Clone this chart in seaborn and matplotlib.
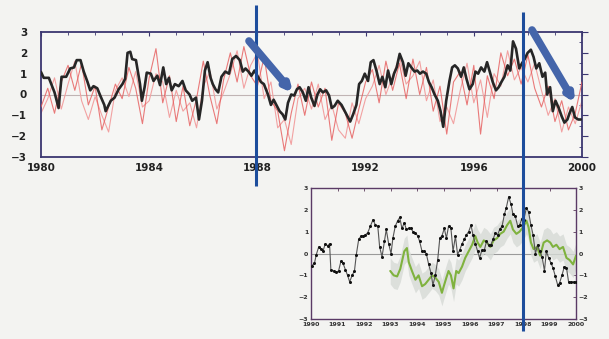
import numpy as np
import pandas as pd
import seaborn as sns
import matplotlib.pyplot as plt
from matplotlib.ticker import MultipleLocator

# Главная панель: чёрная кривая (1980-2000)
main_years = [1980.00, 1980.10, 1980.29, 1980.50, 1980.65, 1980.76, 1980.93, 1981.08, 1981.22, 1981.32,
              1981.46, 1981.58, 1981.72, 1981.82, 1981.94, 1982.08, 1982.19, 1982.34, 1982.39, 1982.58,
              1982.72, 1982.87, 1983.01, 1983.11, 1983.20, 1983.30, 1983.37, 1983.51, 1983.66, 1983.73,
              1983.83, 1983.91, 1984.06, 1984.16, 1984.30, 1984.40, 1984.52, 1984.63, 1984.73, 1984.83,
              1984.95, 1985.09, 1985.23, 1985.35, 1985.49, 1985.59, 1985.73, 1985.84, 1985.95, 1986.06,
              1986.16, 1986.27, 1986.35, 1986.45, 1986.55, 1986.67, 1986.81, 1986.95, 1987.07, 1987.21,
              1987.35, 1987.46, 1987.56, 1987.67, 1987.78, 1987.89, 1988.00, 1988.13, 1988.24, 1988.39,
              1988.50, 1988.60, 1988.70, 1988.82, 1988.93, 1989.03, 1989.13, 1989.25, 1989.36, 1989.46,
              1989.56, 1989.68, 1989.79, 1989.89, 1989.99, 1990.11, 1990.22, 1990.32, 1990.42, 1990.54,
              1990.65, 1990.75, 1990.85, 1990.97, 1991.11, 1991.23, 1991.33, 1991.43, 1991.54, 1991.66,
              1991.76, 1991.86, 1991.97, 1992.09, 1992.19, 1992.29, 1992.40, 1992.52, 1992.62, 1992.73,
              1992.83, 1992.95, 1993.05, 1993.15, 1993.26, 1993.38, 1993.48, 1993.58, 1993.69, 1993.81,
              1993.91, 1994.01, 1994.12, 1994.24, 1994.34, 1994.44, 1994.55, 1994.67, 1994.77, 1994.87,
              1994.98, 1995.10, 1995.20, 1995.30, 1995.41, 1995.53, 1995.63, 1995.73, 1995.84, 1995.96,
              1996.06, 1996.16, 1996.27, 1996.39, 1996.49, 1996.59, 1996.70, 1996.82, 1996.92, 1997.02,
              1997.13, 1997.25, 1997.35, 1997.45, 1997.56, 1997.68, 1997.78, 1997.88, 1997.99, 1998.11,
              1998.21, 1998.31, 1998.42, 1998.54, 1998.64, 1998.71, 1998.82, 1998.92, 1999.02, 1999.14,
              1999.25, 1999.35, 1999.46, 1999.54, 1999.64, 1999.74, 1999.86, 1999.96]
main_black = [1.08, 0.8, 0.8, 0.1, -0.65, 0.85, 0.85, 1.25, 1.3, 1.65,
              1.65, 1.1, 0.6, 0.2, 0.4, 0.3, -0.05, -0.5, -0.8, -0.3,
              -0.15, 0.25, 0.5, 0.75, 2.0, 2.05, 1.7, 1.65, 0.5, -0.3,
              0.35, 1.05, 1.0, 0.65, 0.9, 0.45, 1.3, 0.5, 0.8, 0.2,
              0.5, 0.4, 0.65, 0.2, 0.0, -0.3, -0.15, -1.2, -0.3, 1.15,
              1.55, 0.8, 0.5, 0.25, 0.1, 0.85, 1.1, 1.0, 1.7, 1.85,
              1.65, 1.1, 1.25, 1.1, 0.9, 1.15, 0.9, 0.6, 0.5, 0.0,
              -0.5, -0.25, -0.5, -0.8, -0.95, -1.2, -0.4, 0.0, -0.05, 0.25,
              0.35, 0.1, -0.3, 0.35, -0.15, -0.55, 0.0, 0.25, 0.1, 0.2,
              -0.05, -0.65, -0.55, -0.3, -0.5, -0.8, -1.05, -1.3, -0.95, -0.5,
              0.5, 0.65, 1.0, 0.65, 1.55, 1.65, 1.15, 0.5, 0.85, 0.35,
              1.15, 0.5, 1.0, 1.3, 1.95, 1.55, 0.9, 1.5, 1.3, 1.1,
              1.15, 1.0, 1.1, 1.0, 0.6, 0.35, 0.0, -0.3, -0.8, -1.55,
              -0.3, 0.65, 1.3, 1.4, 1.25, 0.85, 1.3, 0.75, 0.25, 0.5,
              1.1, 1.0, 1.3, 1.1, 1.55, 1.1, 0.6, 0.2, 0.35, 0.6,
              0.85, 1.4, 1.15, 2.55, 2.2, 1.25, 1.5, 1.7, 2.0, 2.15,
              1.8, 1.25, 1.5, 0.85, 1.05, 0.0, 0.35, -0.8, -0.3, -0.65,
              -1.05, -1.35, -1.2, -0.9, -0.6, -1.1, -1.2, -1.2]

# Две красные кривые, шаг 3 месяца
red_years = np.arange(1980, 2000.01, 0.25)
red_a = [-0.6, 0.3, -0.9, 0.6, 1.4, 0.2, 1.5, -0.5, 0.4, -1.7,
         -0.6, 0.5, -0.2, 1.3, 0.3, -1.4, 0.8, 2.2, -0.4, 0.9,
         -1.3, 0.4, -1.5, -0.2, 1.6, -0.1, -1.4, 0.7, 2.0, 0.6,
         2.3, 0.9, 0.4, 1.8, -0.3, -0.8, -2.7, -0.9, 0.5, -1.0,
         0.6, -0.6, 0.3, -2.2, -0.4, -0.9, -2.1, -0.7, 0.6, 1.2,
         -0.4, 1.6, 0.2, 1.5, -0.2, 1.7, 0.0, 1.3, -0.8, 0.4,
         -1.9, 0.6, 1.1, -0.5, 1.4, -1.9, 0.9, -0.2, 2.0, 0.9,
         1.7, 0.5, 1.9, 0.3, -0.6, 0.4, -1.3, -0.3, -1.7, -0.9, 0.6]
red_b = [-0.9, -0.2, 0.8, -0.7, 0.5, 1.6, -0.3, -1.2, -0.1, -1.0,
         -1.8, 0.2, 0.8, -0.1, 1.1, -0.6, -0.3, 1.0, 0.6, -1.1,
         0.2, -0.8, -0.4, -1.6, 0.4, 1.1, -0.7, 0.1, 1.0, 2.1,
         0.3, 1.4, 2.0, -0.2, 0.6, -1.6, -1.2, -2.4, -0.2, 0.3,
         -0.7, 0.5, -1.2, -0.5, -1.7, -2.1, -0.4, -1.4, -0.2, 0.4,
         1.4, 0.0, 0.9, 1.8, 0.5, 0.9, 1.6, -0.3, 0.7, -1.3,
         -0.6, -1.4, 0.2, 1.5, -0.4, 0.7, -1.1, 1.0, 0.4, 2.1,
         0.7, 1.3, 0.6, 1.5, 0.2, -1.0, -0.2, -1.8, -0.6, -1.4, -0.3]

# Врезка: чёрная кривая с точками (1990-2000)
ins_years = [1990.04, 1990.13, 1990.20, 1990.29, 1990.38, 1990.45, 1990.54, 1990.63, 1990.70, 1990.75,
             1990.86, 1990.96, 1991.04, 1991.13, 1991.21, 1991.30, 1991.38, 1991.46, 1991.55, 1991.64,
             1991.71, 1991.80, 1991.89, 1991.96, 1992.05, 1992.14, 1992.24, 1992.34, 1992.43, 1992.52,
             1992.59, 1992.68, 1992.77, 1992.84, 1992.93, 1993.02, 1993.09, 1993.18, 1993.27, 1993.35,
             1993.43, 1993.52, 1993.60, 1993.69, 1993.77, 1993.85, 1993.94, 1994.03, 1994.10, 1994.19,
             1994.28, 1994.35, 1994.44, 1994.53, 1994.60, 1994.69, 1994.78, 1994.86, 1994.94, 1995.03,
             1995.11, 1995.19, 1995.28, 1995.36, 1995.45, 1995.53, 1995.61, 1995.70, 1995.79, 1995.86,
             1995.95, 1996.04, 1996.11, 1996.20, 1996.29, 1996.36, 1996.45, 1996.54, 1996.62, 1996.70,
             1996.79, 1996.87, 1996.96, 1997.04, 1997.12, 1997.21, 1997.30, 1997.37, 1997.46, 1997.55,
             1997.62, 1997.71, 1997.80, 1997.87, 1997.96, 1998.03, 1998.13, 1998.21, 1998.30, 1998.38,
             1998.47, 1998.55, 1998.63, 1998.72, 1998.81, 1998.88, 1998.97, 1999.06, 1999.13, 1999.22,
             1999.31, 1999.38, 1999.47, 1999.56, 1999.64, 1999.72, 1999.81, 1999.91, 2000.00]
ins_black = [-0.55, -0.45, -0.05, 0.3, 0.2, 0.1, 0.45, 0.35, 0.45, -0.75,
             -0.8, -0.85, -0.8, -0.35, -0.45, -0.75, -1.0, -1.3, -1.0, -0.8,
             -0.05, 0.65, 0.8, 0.8, 0.85, 0.95, 1.25, 1.55, 1.3, 1.25,
             0.3, -0.15, 0.55, 1.1, 0.45, 0.0, 0.7, 1.25, 1.5, 1.65,
             1.15, 1.4, 1.1, 1.15, 1.15, 1.0, 0.95, 0.8, 0.55, 0.1,
             0.1, 0.0, -0.5, -0.9, -1.45, -1.0, -0.3, 0.7, 0.8, 1.15,
             0.7, 1.25, 1.15, 0.1, 0.8, -0.05, 0.15, 0.45, 0.65, 0.85,
             1.0, 1.3, 0.85, 0.45, 0.1, -0.2, 0.15, 0.15, 0.55, 0.4,
             0.4, 0.65, 0.95, 0.85, 1.1, 1.25, 1.8, 2.1, 2.6, 2.25,
             1.8, 1.7, 1.25, 1.3, 1.6, 1.55, 2.1, 1.9, 1.3, 0.85,
             0.0, 0.4, 0.1, -0.15, -0.8, 0.1, -0.2, -0.45, -0.65, -1.05,
             -1.45, -1.35, -1.0, -0.6, -0.65, -1.3, -1.3, -1.3, -1.3]

# Врезка: зелёная кривая (1993-2000)
green_years = [1992.99, 1993.12, 1993.25, 1993.37, 1993.52, 1993.62, 1993.69, 1993.81, 1993.94, 1994.06,
               1994.19, 1994.31, 1994.44, 1994.57, 1994.69, 1994.82, 1994.94, 1995.01, 1995.11, 1995.19,
               1995.28, 1995.38, 1995.48, 1995.57, 1995.70, 1995.82, 1995.95, 1996.08, 1996.20, 1996.29,
               1996.39, 1996.52, 1996.64, 1996.77, 1996.89, 1997.02, 1997.14, 1997.27, 1997.40, 1997.52,
               1997.62, 1997.75, 1997.87, 1998.00, 1998.13, 1998.21, 1998.30, 1998.40, 1998.53, 1998.65,
               1998.78, 1998.91, 1999.03, 1999.13, 1999.26, 1999.38, 1999.51, 1999.64, 1999.76, 1999.89, 2000.0]
green_vals = [-0.8, -1.0, -1.05, -0.7, 0.1, 0.25, -0.4, -0.8, -1.2, -1.0,
              -1.5, -1.4, -1.2, -1.0, -1.1, -1.3, -1.8, -1.5, -1.1, -0.8,
              -1.0, -1.6, -0.8, -0.9, -0.6, -0.2, 0.1, 0.4, 0.8, 0.5,
              0.3, 0.6, 0.5, 0.3, 0.6, 0.7, 0.9, 1.0, 1.3, 1.5,
              1.1, 0.9, 1.0, 1.2, 1.5, 1.2, 0.5, 0.2, 0.3, -0.1,
              0.5, 0.6, 0.5, 0.3, 0.4, 0.2, 0.3, -0.2, -0.3, -0.5, -0.1]
green_spread = 0.6

main_xticks = [1980, 1984, 1988, 1992, 1996, 2000]
ins_xticks = list(range(1990, 2001))
yticks = [-3, -2, -1, 0, 1, 2, 3]

sns.set_style("white")
plt.rcParams['font.family'] = ['DejaVu Sans']

paper = '#f3f3f1'
spine_c = '#3b3670'
fig = plt.figure(figsize=(6.09, 3.39), dpi=100, facecolor=paper)

# --- главная панель ---
ax = fig.add_axes([41 / 609, 1 - 157 / 339, 541 / 609, 125 / 339])
ax.set_facecolor('#f6f6f4')
ax.axhline(0, color='#c0b4b4', lw=0.8, zorder=1)
sns.lineplot(x=red_years, y=red_b, ax=ax, color='#f2a2a2', lw=0.8, zorder=2)
sns.lineplot(x=red_years, y=red_a, ax=ax, color='#e65a5a', lw=0.8, alpha=0.8, zorder=3)
sns.lineplot(x=main_years, y=main_black, ax=ax, color='#262626', lw=1.9, zorder=4)
ax.set_xlim(1980, 2000)
ax.set_ylim(-3, 3)
ax.set_xticks(main_xticks)
ax.set_yticks(yticks)
ax.xaxis.set_minor_locator(MultipleLocator(1))
ax.yaxis.set_minor_locator(MultipleLocator(0.5))
ax.tick_params(axis='x', which='major', labelsize=7.5, length=3, width=0.8, color=spine_c,
               top=True, direction='in', pad=4)
ax.tick_params(axis='y', which='major', labelsize=7.5, length=4, width=0.8, color=spine_c,
               right=True, direction='out', pad=6)
ax.tick_params(axis='both', which='minor', length=2, width=0.6, color=spine_c,
               top=True, right=True, direction='in')
for lab in ax.get_xticklabels() + ax.get_yticklabels():
    lab.set_fontweight('bold')
    lab.set_color('#222222')
for s in ax.spines.values():
    s.set_color(spine_c)
    s.set_linewidth(1.3)
ax.set_xlabel('')
ax.set_ylabel('')

# --- врезка ---
ax2 = fig.add_axes([311 / 609, 1 - 319 / 339, 265 / 609, 131 / 339])
ax2.set_facecolor('#f4f4f2')
ax2.axhline(0, color='#9a9a9a', lw=0.8, zorder=1)
g_lo = np.array(green_vals) - green_spread
g_hi = np.array(green_vals) + green_spread
ax2.fill_between(green_years, g_lo, g_hi, color='#d6dad6', alpha=0.8, lw=0, zorder=2)
sns.lineplot(x=green_years, y=green_vals, ax=ax2, color='#7fb23e', lw=1.5, zorder=3)
sns.lineplot(x=ins_years, y=ins_black, ax=ax2, color='#555555', lw=0.8, marker='o',
             markersize=2.2, markeredgewidth=0, markerfacecolor='#111111', zorder=4)
ax2.set_xlim(1990, 2000)
ax2.set_ylim(-3, 3)
ax2.set_xticks(ins_xticks)
ax2.set_yticks(yticks)
ax2.tick_params(axis='both', labelsize=4.5, length=2, width=0.6, color='#5a3a5a',
                direction='in', right=True, top=True, labelright=True, pad=2)
for lab in ax2.get_xticklabels() + ax2.get_yticklabels():
    lab.set_fontweight('bold')
    lab.set_color('#333333')
for s in ax2.spines.values():
    s.set_color('#5a3a66')
    s.set_linewidth(1.0)
ax2.set_xlabel('')
ax2.set_ylabel('')

# --- вертикальные линии и стрелки поверх всего ---
ov = fig.add_axes([0, 0, 1, 1], zorder=10)
ov.set_xlim(0, 609)
ov.set_ylim(339, 0)
ov.axis('off')
ov.patch.set_alpha(0)
ov.plot([256, 256], [5, 186], color='#1d4d9c', lw=2.2, solid_capstyle='butt')
ov.plot([523, 523], [12, 331], color='#1d4d9c', lw=2.2, solid_capstyle='butt')
arrow_c = '#4465aa'
ov.annotate('', xy=(293, 93), xytext=(249, 41),
            arrowprops=dict(arrowstyle='-|>', lw=5.5, color=arrow_c, mutation_scale=9,
                            shrinkA=0, shrinkB=0))
ov.annotate('', xy=(575, 103), xytext=(532, 30),
            arrowprops=dict(arrowstyle='-|>', lw=5.5, color=arrow_c, mutation_scale=9,
                            shrinkA=0, shrinkB=0))

plt.savefig('out.png', dpi=100, facecolor=paper)
plt.close()
